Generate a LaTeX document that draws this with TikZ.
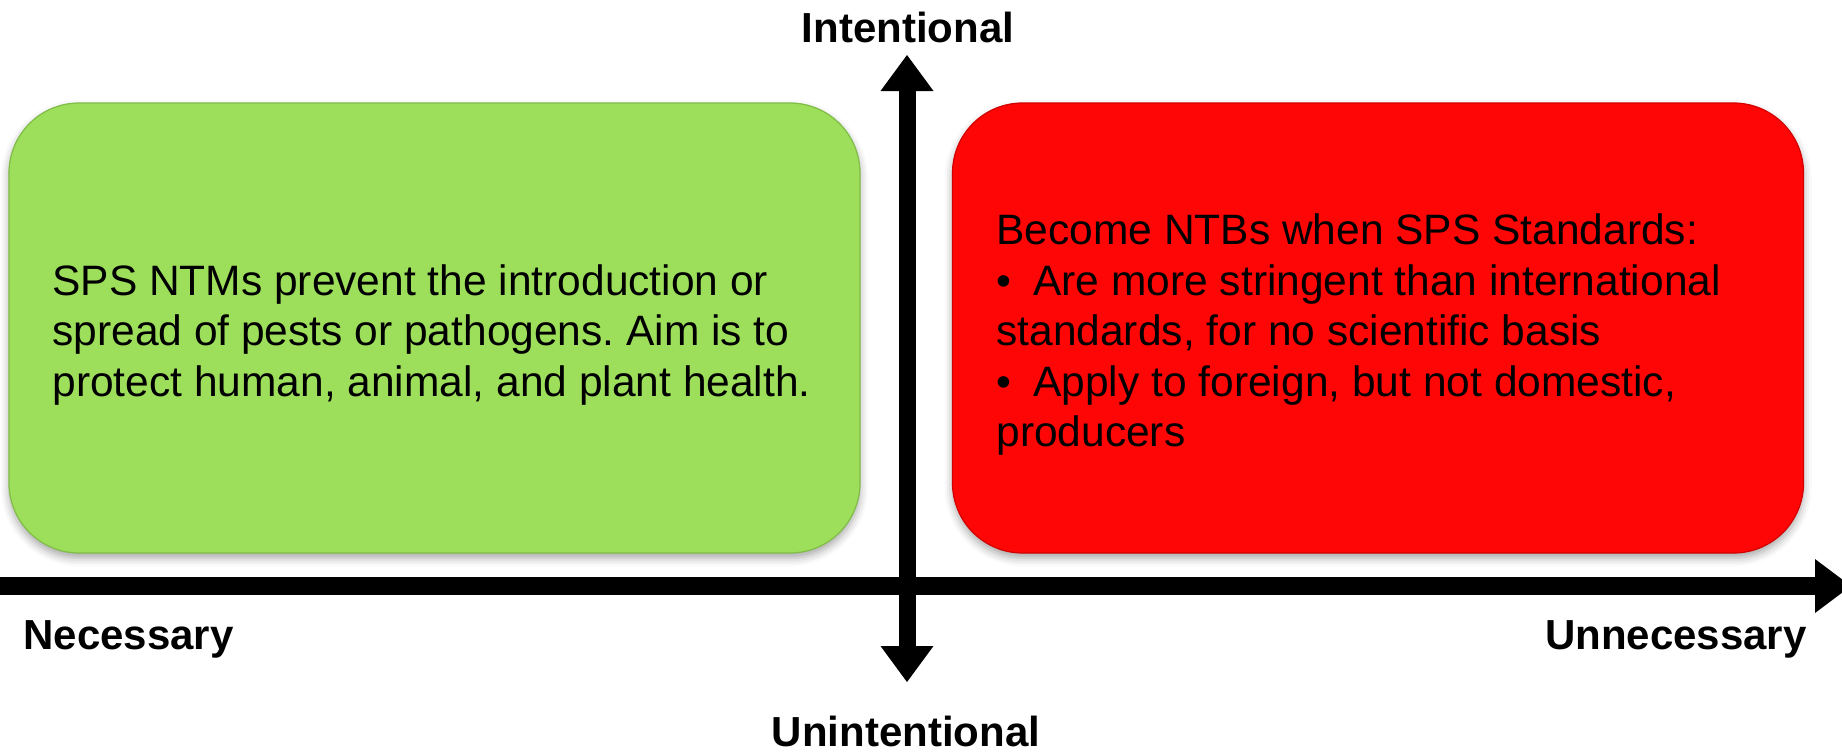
\documentclass[tikz,border=0pt]{standalone}
\usepackage{fontspec}
\setmainfont{Liberation Sans}
\usetikzlibrary{arrows.meta,shadows.blur}
\definecolor{boxgreen}{RGB}{157,222,91}
\definecolor{boxgreenedge}{RGB}{128,188,72}
\definecolor{boxred}{RGB}{255,6,6}
\definecolor{boxrededge}{RGB}{210,0,0}
\frenchspacing
\begin{document}
\begin{tikzpicture}[x=0.5pt,y=-0.5pt,
  quad/.style={rounded corners=35pt, minimum width=425.5pt, minimum height=225pt, inner sep=0pt, line width=0.6pt,
    blur shadow={shadow xshift=0pt,shadow yshift=-2.5pt,shadow blur radius=4pt,shadow opacity=35}},
  body/.style={anchor=west, align=left, inner sep=0pt, font=\fontsize{21.25}{25.25}\selectfont},
  axislabel/.style={inner sep=0pt, font=\fontsize{21}{25}\selectfont\bfseries},
  haxis/.style={line width=9pt, -{Triangle[length=18pt,width=27pt,line width=0pt]}},
  vaxis/.style={line width=8.5pt, {Triangle[length=18pt,width=26.5pt,line width=0pt]}-{Triangle[length=18pt,width=26.5pt,line width=0pt]}}
]
\useasboundingbox (0,0) rectangle (1842,752);
\clip (0,0) rectangle (1842,752);

\node[quad, fill=boxgreen, draw=boxgreenedge] (green) at (434.5,328) {};
\node[quad, fill=boxred, draw=boxrededge] (red) at (1378,328) {};

\node[body] (gtext) at (52,334.5) {SPS NTMs prevent the introduction or\\spread of pests or pathogens. Aim is to\\protect human, animal, and plant health.};
\node[body] (rtext) at (996,334.5) {Become NTBs when SPS Standards:\\\makebox[18.5pt][l]{•}Are more stringent than international\\standards, for no scientific basis\\\makebox[18.5pt][l]{•}Apply to foreign, but not domestic,\\producers};

\coordinate (hL) at (0,586);
\coordinate (hR) at (1851,586);
\coordinate (vT) at (907,55);
\coordinate (vB) at (907,682);
\draw[haxis] (hL) -- (hR);
\draw[vaxis] (vB) -- (vT);

\node[axislabel, anchor=base] (intl) at (908,42) {Intentional};
\node[axislabel, anchor=base] (unintl) at (906,746) {Unintentional};
\node[axislabel, anchor=base west] (nec) at (23,649) {Necessary};
\node[axislabel, anchor=base east] (unnec) at (1807,649) {Unnecessary};
\end{tikzpicture}
\end{document}
